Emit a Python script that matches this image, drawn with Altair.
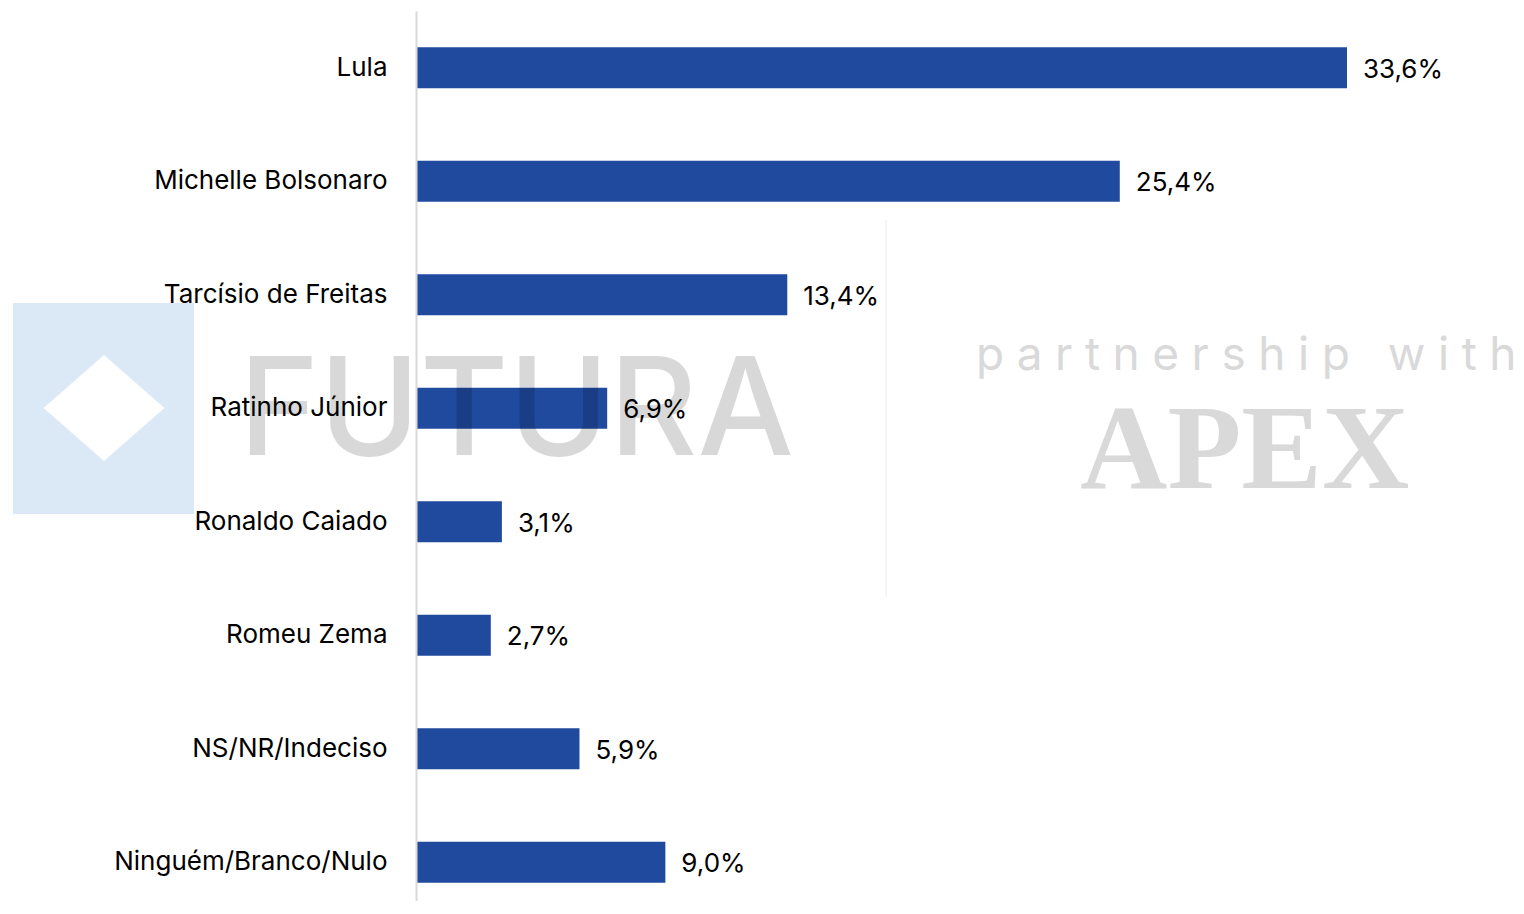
import altair as alt
import pandas as pd

candidates = [
    "Lula",
    "Michelle Bolsonaro",
    "Tarcísio de Freitas",
    "Ratinho Júnior",
    "Ronaldo Caiado",
    "Romeu Zema",
    "NS/NR/Indeciso",
    "Ninguém/Branco/Nulo",
]
values = [33.6, 25.4, 13.4, 6.9, 3.1, 2.7, 5.9, 9.0]
labels = [f"{v:.1f}".replace(".", ",") + "%" for v in values]

df = pd.DataFrame({"cand": candidates, "val": values, "lab": labels})

BAR = "#1f4a9e"
FONT = "Inter"

yenc = alt.Y(
    "cand:N",
    sort=candidates,
    title=None,
    scale=alt.Scale(range=[0, 908], paddingInner=0.639, paddingOuter=0.3195),
    axis=alt.Axis(
        labelFontSize=26,
        labelColor="#000000",
        labelFont=FONT,
        labelPadding=29,
        ticks=False,
        domainColor="#d9d9d9",
        domainWidth=2,
        labelLimit=400,
        zindex=1,
    ),
)
xenc = alt.X("val:Q", scale=alt.Scale(domain=[0, 39.7], nice=False, zero=True), axis=None)

base = alt.Chart(df)
bars = base.mark_bar(color=BAR).encode(x=xenc, y=yenc)
text = base.mark_text(
    align="left", baseline="middle", dx=16, dy=2, fontSize=26, font=FONT, color="#000000"
).encode(x=xenc, y=yenc, text="lab:N")

one = alt.Data(values=[{"k": 1}])
square = alt.Chart(one).mark_rect(color="#dbe9f6").encode(
    x=alt.value(-403), x2=alt.value(-222), y=alt.value(292), y2=alt.value(503)
)
diamond = alt.Chart(one).mark_point(
    shape="M0,-0.876L1,0L0,0.876L-1,0Z", filled=True, color="#ffffff", opacity=1, size=14641, strokeWidth=0
).encode(x=alt.value(-312), y=alt.value(397))
vline = alt.Chart(one).mark_rule(color="#ececec", strokeWidth=1).encode(
    x=alt.value(470), y=alt.value(209), y2=alt.value(586)
)
sp = "\u2009\u200a"
partner = alt.Chart(one).mark_text(
    text=sp.join("partnership") + sp + " " + sp + sp.join("with"),
    align="left", baseline="alphabetic", font=FONT, fontSize=46, color="#d9d9d9",
).encode(x=alt.value(560), y=alt.value(359))
apex = alt.Chart(one).mark_text(
    text="APEX", align="left", baseline="alphabetic", font="Liberation Serif",
    fontWeight="bold", fontSize=121, color="#d9d9d9",
).encode(x=alt.value(664), y=alt.value(477))
futura = alt.Chart(one).mark_text(
    text="FUTURA", align="left", baseline="alphabetic", font=FONT, fontSize=136,
    fontWeight=500, color="#000000", opacity=0.15,
).encode(x=alt.value(-177), y=alt.value(444))

chart = (
    alt.layer(square, diamond, vline, partner, apex, bars, text, futura)
    .properties(
        width=1100,
        height=890,
        padding={"left": 408, "top": 3, "right": 0, "bottom": 0},
        autosize=alt.AutoSizeParams(type="none"),
        background="#ffffff",
    )
    .configure_view(stroke=None)
)

chart.save("out.html", embed_options={"renderer": "svg", "actions": False})
